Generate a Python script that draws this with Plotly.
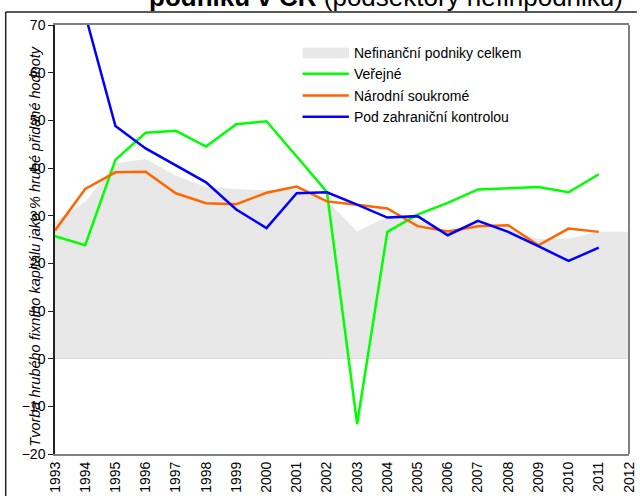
import plotly.graph_objects as go

# ---- data ----
years = list(range(1993, 2012))
years_total = list(range(1993, 2013))
total = [28.8, 32.9, 41.0, 41.9, 38.4, 36.0, 35.6, 35.3, 35.5, 33.2,
         26.7, 29.7, 29.0, 26.4, 28.6, 27.2, 25.1, 25.2, 26.6, 26.6]
verejne = [25.7, 23.8, 41.7, 47.4, 47.8, 44.5, 49.2, 49.8, 42.4, 35.0,
           -13.7, 26.6, 30.2, 32.7, 35.5, 35.8, 36.0, 34.9, 38.7]
narodni = [26.9, 35.6, 39.1, 39.2, 34.7, 32.6, 32.4, 34.8, 36.1, 33.0,
           32.3, 31.5, 27.8, 26.7, 27.8, 28.0, 23.8, 27.3, 26.6]
zahranicni = [None, 72.2, 48.8, 44.1, 40.5, 37.0, 31.3, 27.4, 34.7, 34.9,
              32.3, 29.6, 29.9, 25.9, 28.9, 26.6, 23.6, 20.5, 23.3]
names = ["Nefinanční podniky celkem", "Veřejné", "Národní soukromé",
         "Pod zahraniční kontrolou"]
colors = ["#e8e8e8", "#00ff00", "#ff6600", "#0000ff"]
ytitle = "Tvorba hrubého fixního kapitálu jako % hrubé přidané hodnoty"
title = "<b>podniků v ČR</b> (podsektory nefinpodniků)"

W, H = 640, 496
L, R, T, B = 55, 3, 25, 39
PW, PH = W - L - R, H - T - B
FONT = "Arial, Liberation Sans, sans-serif"


def px(x):
    return (x - L) / PW


def py(y):
    return (H - B - y) / PH


fig = go.Figure()
fig.add_trace(go.Scatter(x=years_total, y=total, mode="lines", fill="tozeroy",
                         fillcolor=colors[0], line=dict(width=0, color=colors[0]),
                         name=names[0], hoverinfo="skip"))
for ys, nm, c in zip([verejne, narodni, zahranicni], names[1:], colors[1:]):
    fig.add_trace(go.Scatter(x=years, y=ys, mode="lines", name=nm,
                             line=dict(color=c, width=2.5), connectgaps=False))

shapes = []
annotations = []
# outer chart border
shapes.append(dict(type="line", xref="paper", yref="paper", x0=px(5), x1=px(645),
                   y0=py(12), y1=py(12), line=dict(color="#222222", width=1.5)))
shapes.append(dict(type="line", xref="paper", yref="paper", x0=px(5), x1=px(5),
                   y0=py(12), y1=py(500), line=dict(color="#222222", width=1.5)))
# right plot border
shapes.append(dict(type="line", xref="paper", yref="paper", x0=1, x1=1,
                   y0=0, y1=1, line=dict(color="#808080", width=2)))

# manual legend
leg_x0, leg_x1 = 306, 353
leg_y = [53, 74, 96, 117.5]
shapes.append(dict(type="rect", xref="paper", yref="paper", x0=px(leg_x0), x1=px(leg_x1),
                   y0=py(58.5), y1=py(48), fillcolor=colors[0], line=dict(width=0)))
for i in range(1, 4):
    shapes.append(dict(type="line", xref="paper", yref="paper", x0=px(leg_x0), x1=px(leg_x1),
                       y0=py(leg_y[i]), y1=py(leg_y[i]), line=dict(color=colors[i], width=2.5)))
for i in range(4):
    annotations.append(dict(xref="paper", yref="paper", x=px(356), y=py(leg_y[i]),
                            xanchor="left", yanchor="middle", showarrow=False,
                            text=names[i], font=dict(size=14, color="black", family=FONT)))

# y-axis title (overlapping tick labels as in the original)
annotations.append(dict(xref="paper", yref="paper", x=px(35), y=py(248),
                        xanchor="center", yanchor="middle", showarrow=False, textangle=-90,
                        text="<i>" + ytitle + "</i>",
                        font=dict(size=14.5, color="black", family=FONT)))
# title (cut off at top)
annotations.append(dict(xref="paper", yref="paper", x=px(633), y=py(-3.5),
                        xanchor="right", yanchor="middle", showarrow=False,
                        text=title, font=dict(size=26, color="black", family=FONT)))

fig.update_layout(
    width=W, height=H,
    margin=dict(l=L, r=R, t=T, b=B, pad=0),
    paper_bgcolor="white", plot_bgcolor="white",
    showlegend=False,
    font=dict(family=FONT, color="black", size=14),
    shapes=shapes, annotations=annotations,
    xaxis=dict(range=[1993, 2012], tickmode="linear", tick0=1993, dtick=1,
               tickangle=-90, showgrid=False, zeroline=False,
               showline=True, linecolor="#808080", linewidth=2, mirror=True,
               ticks="", tickfont=dict(size=14), ticklabeloverflow="allow"),
    yaxis=dict(range=[-20, 70], tickmode="linear", tick0=-20, dtick=10,
               showgrid=False, zeroline=True, zerolinecolor="#b4b4b4", zerolinewidth=1,
               showline=True, linecolor="#222222", linewidth=1.5,
               ticks="outside", ticklen=5, tickcolor="#222222",
               tickfont=dict(size=14)),
)

fig.write_html("out.html", config={"displayModeBar": False},
               post_script="document.body.style.margin='0';document.body.style.overflow='hidden';")
